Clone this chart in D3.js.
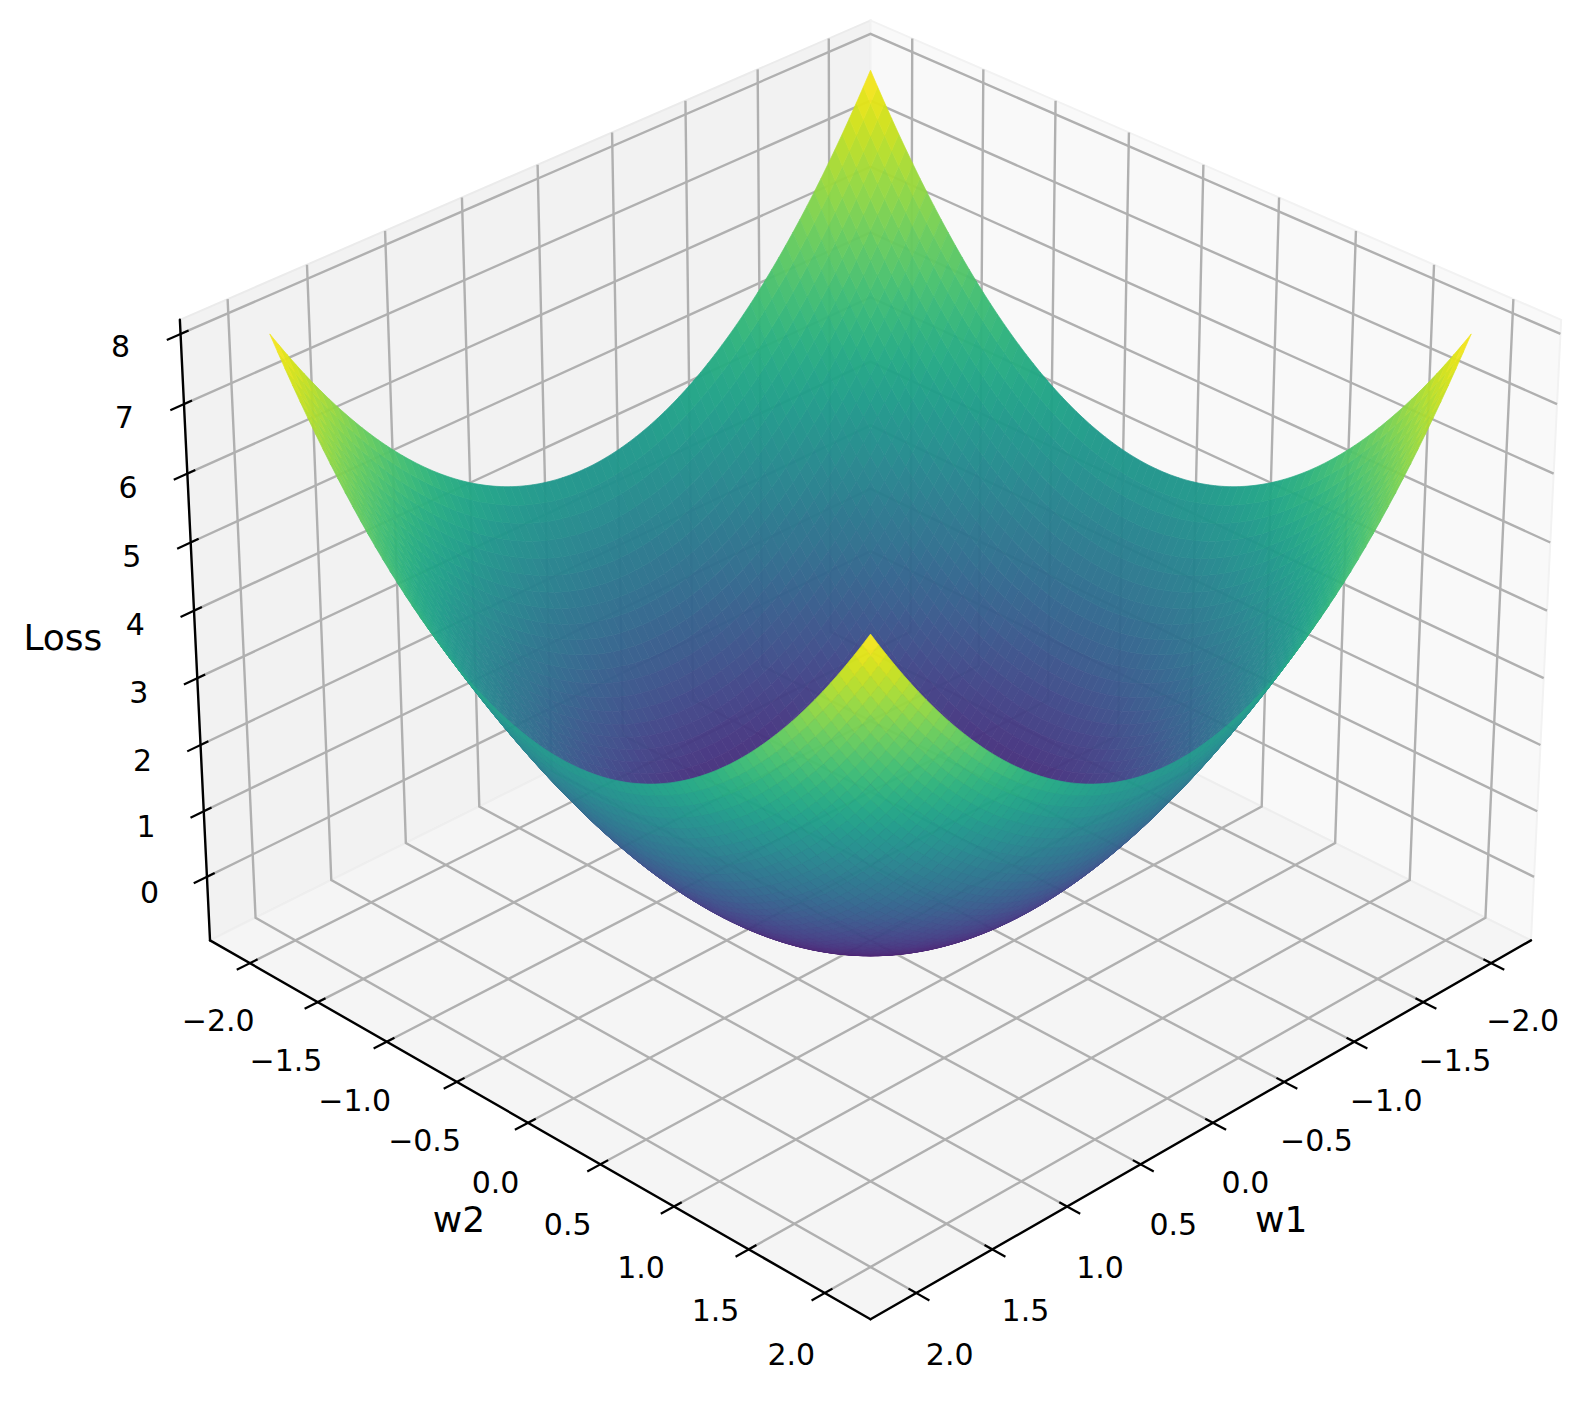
<!DOCTYPE html>
<html><head><meta charset="utf-8">
<script src="https://cdn.jsdelivr.net/npm/d3@7/dist/d3.min.js"></script>
<style>html,body{margin:0;padding:0;background:#fff}svg{display:block}text{font-family:"DejaVu Sans",sans-serif;fill:#000}</style>
</head><body><svg id="c" width="1586" height="1401"></svg>
<script>
// Weight grid shared by w1 and w2, the loss each weight contributes along the surface rim,
// and how strongly the central dip (read from the silhouette and colours) applies at that weight
const weights = [-2,-1.95,-1.9,-1.85,-1.8,-1.75,-1.7,-1.65,-1.6,-1.55,-1.5,-1.45,-1.4,-1.35,-1.3,-1.25,-1.2,-1.15,-1.1,-1.05,-1,-0.95,-0.9,-0.85,-0.8,-0.75,-0.7,-0.65,-0.6,-0.55,-0.5,-0.45,-0.4,-0.35,-0.3,-0.25,-0.2,-0.15,-0.1,-0.05,0,0.05,0.1,0.15,0.2,0.25,0.3,0.35,0.4,0.45,0.5,0.55,0.6,0.65,0.7,0.75,0.8,0.85,0.9,0.95,1,1.05,1.1,1.15,1.2,1.25,1.3,1.35,1.4,1.45,1.5,1.55,1.6,1.65,1.7,1.75,1.8,1.85,1.9,1.95,2];
const lossPerWeight = [4,3.8025,3.61,3.4225,3.24,3.0625,2.89,2.7225,2.56,2.4025,2.25,2.1025,1.96,1.8225,1.69,1.5625,1.44,1.3225,1.21,1.1025,1,0.9025,0.81,0.7225,0.64,0.5625,0.49,0.4225,0.36,0.3025,0.25,0.2025,0.16,0.1225,0.09,0.0625,0.04,0.0225,0.01,0.0025,0,0.0025,0.01,0.0225,0.04,0.0625,0.09,0.1225,0.16,0.2025,0.25,0.3025,0.36,0.4225,0.49,0.5625,0.64,0.7225,0.81,0.9025,1,1.1025,1.21,1.3225,1.44,1.5625,1.69,1.8225,1.96,2.1025,2.25,2.4025,2.56,2.7225,2.89,3.0625,3.24,3.4225,3.61,3.8025,4];
const dipPerWeight = [0,0.0494,0.0975,0.1444,0.19,0.2344,0.2775,0.3194,0.36,0.3994,0.4375,0.4744,0.51,0.5444,0.5775,0.6094,0.64,0.6694,0.6975,0.7244,0.75,0.7744,0.7975,0.8194,0.84,0.8594,0.8775,0.8944,0.91,0.9244,0.9375,0.9494,0.96,0.9694,0.9775,0.9844,0.99,0.9944,0.9975,0.9994,1,0.9994,0.9975,0.9944,0.99,0.9844,0.9775,0.9694,0.96,0.9494,0.9375,0.9244,0.91,0.8944,0.8775,0.8594,0.84,0.8194,0.7975,0.7744,0.75,0.7244,0.6975,0.6694,0.64,0.6094,0.5775,0.5444,0.51,0.4744,0.4375,0.3994,0.36,0.3194,0.2775,0.2344,0.19,0.1444,0.0975,0.0494,0];
const centreLoss = -0.6;
const lossRange = [-0.6,8];
const weightTicks = [-2,-1.5,-1,-0.5,0,0.5,1,1.5,2];
const weightTickLabels = ["−2.0","−1.5","−1.0","−0.5","0.0","0.5","1.0","1.5","2.0"];
const lossTicks = [0,1,2,3,4,5,6,7,8];
const lossTickLabels = ["0","1","2","3","4","5","6","7","8"];
const axisTitles = ["w1","w2","Loss"];

// View (matplotlib-style perspective camera)
const elev = 30*Math.PI/180, azim = 45*Math.PI/180, dist = 10;
const boxXY = 1.1905, boxZ = 0.8929;
const XL = 2.297, ZLO = -0.978, ZHI = 8.2;
const PXS = 8021, CX = 870.5, CY = 637;
const xS = d3.scaleLinear().domain([-XL,XL]).range([-boxXY/2,boxXY/2]);
const yS = d3.scaleLinear().domain([-XL,XL]).range([-boxXY/2,boxXY/2]);
const zS = d3.scaleLinear().domain([ZLO,ZHI]).range([-boxZ/2,boxZ/2]);
const n = [Math.cos(elev)*Math.cos(azim),Math.cos(elev)*Math.sin(azim),Math.sin(elev)];
const r = [-Math.sin(azim),Math.cos(azim),0];
const up = [-Math.sin(elev)*Math.cos(azim),-Math.sin(elev)*Math.sin(azim),Math.cos(elev)];
function cam(w1,w2,z){
  const p=[xS(w1),yS(w2),zS(z)];
  const dot=a=>a[0]*p[0]+a[1]*p[1]+a[2]*p[2];
  const d=dist-dot(n);
  return {x:dot(r)/d,y:dot(up)/d,d};
}
const sx = d3.scaleLinear().domain([0,1]).range([CX,CX+PXS]);
const sy = d3.scaleLinear().domain([0,1]).range([CY,CY-PXS]);
const proj = (a,b,c)=>{const q=cam(a,b,c);return [sx(q.x),sy(q.y)];};
const line = d3.line();

const svg = d3.select("#c");
const rootG = svg.append("g");

// Panes
const panes = [
 {pts:[[XL,-XL,ZLO],[-XL,-XL,ZLO],[-XL,-XL,ZHI],[XL,-XL,ZHI]],fill:"#f2f2f2",edge:"#ebebeb"},
 {pts:[[-XL,XL,ZLO],[-XL,-XL,ZLO],[-XL,-XL,ZHI],[-XL,XL,ZHI]],fill:"#f9f9f9",edge:"#f2f2f2"},
 {pts:[[XL,XL,ZLO],[XL,-XL,ZLO],[-XL,-XL,ZLO],[-XL,XL,ZLO]],fill:"#f5f5f5",edge:"#eeeeee"}
];
rootG.append("g").selectAll("path").data(panes).join("path")
 .attr("d",p=>line(p.pts.map(q=>proj(...q)))+"Z")
 .attr("fill",p=>p.fill).attr("stroke",p=>p.edge).attr("stroke-width",2);

// Grid
const gridLines = [
 ...weightTicks.map(t=>[[t,XL,ZLO],[t,-XL,ZLO],[t,-XL,ZHI]]),
 ...weightTicks.map(t=>[[XL,t,ZLO],[-XL,t,ZLO],[-XL,t,ZHI]]),
 ...lossTicks.map(t=>[[XL,-XL,t],[-XL,-XL,t],[-XL,XL,t]])
];
rootG.append("g").selectAll("path").data(gridLines).join("path")
 .attr("d",g=>line(g.map(q=>proj(...q))))
 .attr("fill","none").attr("stroke","#b0b0b0").attr("stroke-width",2.4);

// Surface
const colour = d3.scaleSequential(d3.interpolateViridis).domain(lossRange);
const lossAt = (a,b)=>lossPerWeight[a]+lossPerWeight[b]+centreLoss*dipPerWeight[a]*dipPerWeight[b];
const cells = [];
for(let i=0;i<weights.length-1;i++)for(let j=0;j<weights.length-1;j++){
  const c=[[i,j],[i+1,j],[i+1,j+1],[i,j+1]].map(([a,b])=>[weights[a],weights[b],lossAt(a,b)]);
  const mz=d3.mean(c,q=>q[2]);
  const md=d3.mean(c,q=>cam(...q).d);
  cells.push({c,mz,md});
}
cells.sort((a,b)=>b.md-a.md);
rootG.append("g").attr("opacity",0.96).selectAll("path").data(cells).join("path")
 .attr("d",k=>line(k.c.map(q=>proj(...q)))+"Z")
 .attr("fill",k=>colour(k.mz)).attr("stroke",k=>colour(k.mz)).attr("stroke-width",0.7).attr("stroke-linejoin","round");

// Axis lines
const axes = [
 [[-XL,XL,ZLO],[XL,XL,ZLO]],
 [[XL,-XL,ZLO],[XL,XL,ZLO]],
 [[XL,-XL,ZLO],[XL,-XL,ZHI]]
];
rootG.append("g").selectAll("path").data(axes).join("path")
 .attr("d",a=>line(a.map(q=>proj(...q))))
 .attr("fill","none").attr("stroke","#000").attr("stroke-width",2.4).attr("stroke-linecap","round");

// Ticks: run along the grid line direction, through the axis line
const TO=0.085, TI=0.05;
const ticks = [
 ...weightTicks.map(t=>[[t,XL+TO,ZLO],[t,XL-TI,ZLO]]),
 ...weightTicks.map(t=>[[XL+TO,t,ZLO],[XL-TI,t,ZLO]]),
 ...lossTicks.map(t=>[[XL+TO,-XL,t],[XL-TI,-XL,t]])
];
rootG.append("g").selectAll("path").data(ticks).join("path")
 .attr("d",a=>line(a.map(q=>proj(...q))))
 .attr("fill","none").attr("stroke","#000").attr("stroke-width",2.2);

// Tick labels
const labels = [
 ...weightTicks.map((t,i)=>({s:weightTickLabels[i],p:[t,XL+0.217,ZLO-0.625]})),
 ...weightTicks.map((t,i)=>({s:weightTickLabels[i],p:[XL+0.217,t,ZLO-0.625]})),
 ...lossTicks.map((t,i)=>({s:lossTickLabels[i],p:[XL+0.365,-XL,t+0.19]}))
];
rootG.append("g").selectAll("text").data(labels).join("text")
 .attr("x",l=>proj(...l.p)[0]).attr("y",l=>proj(...l.p)[1])
 .attr("dy","0.36em").attr("text-anchor","middle").attr("font-size",30).text(l=>l.s);

// Axis titles
const titles = [
 {s:axisTitles[0],p:[0,XL+0.45,ZLO-0.89]},
 {s:axisTitles[1],p:[XL+0.455,0,ZLO-0.89]},
 {s:axisTitles[2],p:[XL+0.807,-XL,4.49]}
];
rootG.append("g").selectAll("text").data(titles).join("text")
 .attr("x",l=>proj(...l.p)[0]).attr("y",l=>proj(...l.p)[1])
 .attr("dy","0.36em").attr("text-anchor","middle").attr("font-size",36).text(l=>l.s);
</script></body></html>
